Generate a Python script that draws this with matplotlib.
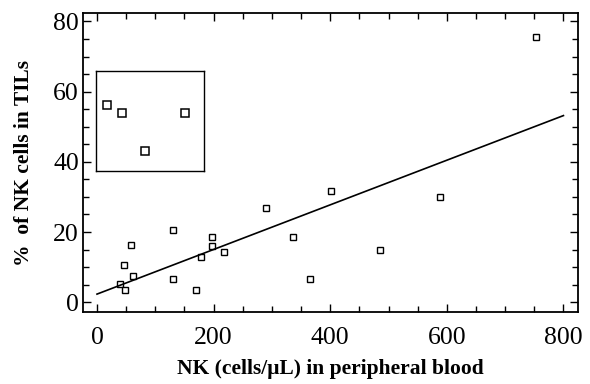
import numpy as np
import matplotlib
matplotlib.use('Agg')
import matplotlib.pyplot as plt
from matplotlib.ticker import MultipleLocator

plt.rcParams['font.family'] = ['Liberation Serif', 'DejaVu Serif']

# NK count in blood vs. NK fraction among tumour-infiltrating lymphocytes
nk_blood = [39, 46, 48, 58, 62, 131, 131, 169, 178, 198, 198, 217,
            289, 336, 366, 402, 485, 588, 753]
nk_tils = [5.2, 10.7, 3.6, 16.4, 7.6, 20.7, 6.6, 3.6, 12.9, 18.7, 15.9, 14.3,
           26.9, 18.5, 6.6, 31.8, 15.0, 29.9, 75.5]

# linear fit drawn over the full x range
fit_intercept = 2.3
fit_slope = 0.0636
fit_range = [0, 800]

# points in the small boxed panel (panel units 0-10)
inset_x = [1.0, 2.4, 4.5, 8.2]
inset_y = [6.55, 5.75, 1.96, 5.75]

fig = plt.figure(figsize=(5.9, 3.84), dpi=100)
ax = fig.add_axes([0.1407, 0.1875, 0.8390, 0.7785])

ax.plot(nk_blood, nk_tils, linestyle='none', marker='s', markersize=4.8,
        markerfacecolor='white', markeredgecolor='black', markeredgewidth=1.0)

fx = np.array(fit_range)
ax.plot(fx, fit_intercept + fit_slope * fx, color='black', linewidth=1.2)

ax.set_xlim(-24, 825)
ax.set_ylim(-2.8, 82.4)
ax.xaxis.set_major_locator(MultipleLocator(200))
ax.xaxis.set_minor_locator(MultipleLocator(50))
ax.yaxis.set_major_locator(MultipleLocator(20))
ax.yaxis.set_minor_locator(MultipleLocator(5))
ax.tick_params(which='both', direction='in', top=True, right=True,
               labelsize=18.5, width=1.0)
ax.tick_params(axis='x', pad=11)
ax.tick_params(axis='y', pad=3)
ax.tick_params(which='major', length=6)
ax.tick_params(which='minor', length=4.3)
for s in ax.spines.values():
    s.set_linewidth(1.3)

ax.set_xlabel('NK (cells/μL) in peripheral blood', fontsize=15.5,
              fontweight='bold', labelpad=7)
ax.set_ylabel('%  of NK cells in TILs', fontsize=15.5, fontweight='bold',
              labelpad=14)

# boxed panel in the upper left
ins = fig.add_axes([96 / 590, 1 - 171 / 384, 108 / 590, 100.3 / 384])
ins.plot(inset_x, inset_y, linestyle='none', marker='s', markersize=6.3,
         markerfacecolor='white', markeredgecolor='black', markeredgewidth=1.1)
ins.set_xlim(0, 10)
ins.set_ylim(0, 10)
ins.set_xticks([])
ins.set_yticks([])
for s in ins.spines.values():
    s.set_linewidth(1.0)

fig.savefig('out.png', dpi=100)
